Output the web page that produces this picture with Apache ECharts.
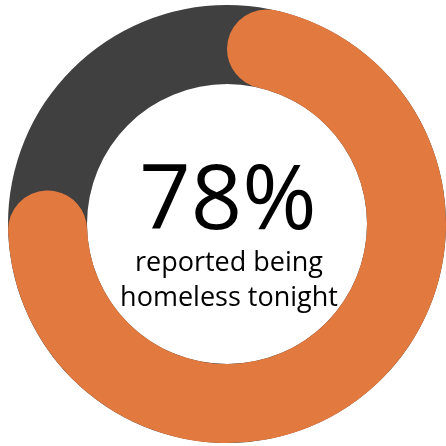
<!DOCTYPE html>
<html>
<head>
<meta charset="utf-8">
<script src="https://cdn.jsdelivr.net/npm/echarts@6/dist/echarts.min.js"></script>
<style>
html,body{margin:0;padding:0;background:#fff;}
#c{width:446px;height:446px;}
</style>
</head>
<body>
<div id="c"></div>
<script>
const categories = ['Homeless tonight', 'Other'];
const values = [78, 22];
const headline = '78%';
const captionLines = ['reported being', 'homeless tonight'];

const chart = echarts.init(document.getElementById('c'), null, {renderer: 'canvas'});
const center = [227, 224];
const radius = [140, 219];
const orange = '#E2793F';
const gray = '#404040';

chart.setOption({
  animation: false,
  series: [
    {
      type: 'pie',
      silent: true,
      center: center,
      radius: radius,
      label: {show: false},
      labelLine: {show: false},
      itemStyle: {color: gray},
      data: [{name: 'ring', value: 100}]
    },
    {
      type: 'pie',
      silent: true,
      center: center,
      radius: radius,
      startAngle: 90,
      clockwise: true,
      label: {show: false},
      labelLine: {show: false},
      itemStyle: {borderRadius: 40},
      data: [
        {name: categories[0], value: values[0], itemStyle: {color: orange}},
        {name: categories[1], value: values[1], itemStyle: {color: 'rgba(0,0,0,0)'}}
      ]
    }
  ],
  graphic: [
    {
      type: 'text',
      x: 228,
      y: 158,
      style: {
        text: headline,
        font: '400 90px "Open Sans"',
        fill: '#000',
        textAlign: 'center'
      }
    },
    {
      type: 'text',
      x: 229,
      y: 246,
      style: {
        text: captionLines.join('\n'),
        font: '400 27px "Open Sans"',
        lineHeight: 35,
        fill: '#000',
        textAlign: 'center'
      }
    }
  ]
});
</script>
</body>
</html>
